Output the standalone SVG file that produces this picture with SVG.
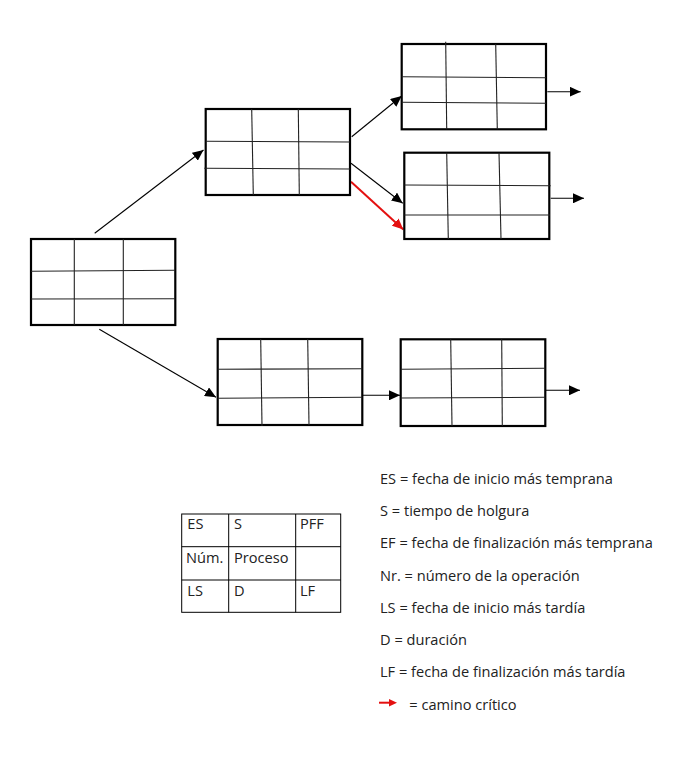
<svg xmlns="http://www.w3.org/2000/svg" width="686" height="757" viewBox="0 0 686 757">
<style>
.box{fill:#fff;stroke:#000;stroke-width:2.2}
.grid{stroke:#222;stroke-width:1.1;fill:none}
.conn{stroke:#000;stroke-width:1.1;fill:none;marker-end:url(#ah)}
.crit{stroke:#e41010;stroke-width:2;fill:none;marker-end:url(#ahr)}
.t{font-family:"Open Sans","Liberation Sans",sans-serif;font-size:14.6px;fill:#222}
.tb{stroke:#000;stroke-width:1;fill:none}
</style>
<defs>
<marker id="ah" markerUnits="userSpaceOnUse" markerWidth="12" markerHeight="10" refX="11" refY="5" orient="auto"><path d="M0,0 L11,5 L0,10 Z" fill="#000"/></marker>
<marker id="ahr" markerUnits="userSpaceOnUse" markerWidth="12" markerHeight="10" refX="11" refY="5" orient="auto"><path d="M0,0 L11,5 L0,10 Z" fill="#e41010"/></marker>
</defs>
<rect width="686" height="757" fill="#fff"/>
<g id="connectors">
<line class="conn" x1="94.7" y1="233.3" x2="203.5" y2="150"/>
<line class="conn" x1="99.3" y1="329.3" x2="216" y2="397.3"/>
<line class="conn" x1="351.7" y1="136.7" x2="401.7" y2="96"/>
<line class="conn" x1="351" y1="163.3" x2="402.7" y2="203.3"/>
<line class="crit" x1="351" y1="181.7" x2="403.3" y2="229.5"/>
<line class="conn" x1="547.3" y1="91.7" x2="580.7" y2="91.7"/>
<line class="conn" x1="550.7" y1="198.3" x2="584" y2="198.3"/>
<line class="conn" x1="362.5" y1="395.3" x2="400" y2="395.3"/>
<line class="conn" x1="545.5" y1="390.3" x2="580" y2="390.3"/>
</g>
<g id="node1">
<rect class="box" x="31" y="239" width="144.3" height="86"/>
<line class="grid" x1="74.3" y1="239" x2="74.3" y2="325"/>
<line class="grid" x1="123.3" y1="239" x2="123.3" y2="325"/>
<line class="grid" x1="31" y1="271.3" x2="175" y2="270.3"/>
<line class="grid" x1="31" y1="299" x2="175" y2="298.7"/>
</g>
<g id="node2">
<rect class="box" x="205.7" y="109" width="144.3" height="86"/>
<line class="grid" x1="251.7" y1="109" x2="253.3" y2="195"/>
<line class="grid" x1="298.3" y1="109" x2="299.3" y2="195"/>
<line class="grid" x1="205.7" y1="141.3" x2="350" y2="142"/>
<line class="grid" x1="204.3" y1="168.3" x2="350" y2="169"/>
</g>
<g id="node3">
<rect class="box" x="401.7" y="44" width="144.3" height="85.3"/>
<line class="grid" x1="445.7" y1="41.7" x2="446.7" y2="129.3"/>
<line class="grid" x1="495.7" y1="44" x2="497.3" y2="129.3"/>
<line class="grid" x1="401.7" y1="76.7" x2="546" y2="77.7"/>
<line class="grid" x1="401.7" y1="102.3" x2="546" y2="103.3"/>
</g>
<g id="node4">
<rect class="box" x="404.3" y="152.7" width="145" height="86.3"/>
<line class="grid" x1="446.7" y1="152.7" x2="448.3" y2="239"/>
<line class="grid" x1="499" y1="152.7" x2="501" y2="239"/>
<line class="grid" x1="404.3" y1="185" x2="550.7" y2="185.7"/>
<line class="grid" x1="404.3" y1="215" x2="550" y2="215"/>
</g>
<g id="node5">
<rect class="box" x="217.7" y="339" width="144.6" height="86"/>
<line class="grid" x1="260.7" y1="339" x2="262" y2="426"/>
<line class="grid" x1="307.7" y1="339" x2="309" y2="425"/>
<line class="grid" x1="217.7" y1="369.3" x2="362.3" y2="368.7"/>
<line class="grid" x1="217.7" y1="398.3" x2="362.3" y2="397.3"/>
</g>
<g id="node6">
<rect class="box" x="400.7" y="339.3" width="144.6" height="86.7"/>
<line class="grid" x1="450.7" y1="339.3" x2="452" y2="426"/>
<line class="grid" x1="501.7" y1="339.3" x2="502.3" y2="426"/>
<line class="grid" x1="400.7" y1="369.3" x2="545.3" y2="368.3"/>
<line class="grid" x1="400.7" y1="398" x2="545.3" y2="397.3"/>
</g>
<g id="legend-table">
<rect class="tb" x="181.7" y="514" width="159" height="98.3"/>
<line class="tb" x1="228.7" y1="514" x2="228.7" y2="612.3"/>
<line class="tb" x1="295.7" y1="514" x2="295.7" y2="612.3"/>
<line class="tb" x1="181.7" y1="546.7" x2="340.7" y2="546.7"/>
<line class="tb" x1="181.7" y1="580" x2="340.7" y2="580"/>
<text class="t" x="187.3" y="529.3">ES</text>
<text class="t" x="234" y="529.3">S</text>
<text class="t" x="300" y="529.3">PFF</text>
<text class="t" x="186" y="563.3">Núm.</text>
<text class="t" x="234" y="563.3">Proceso</text>
<text class="t" x="187.3" y="596">LS</text>
<text class="t" x="234" y="596">D</text>
<text class="t" x="300" y="596">LF</text>
</g>
<g id="legend-text">
<text class="t" x="380" y="484">ES = fecha de inicio más temprana</text>
<text class="t" x="380" y="516">S = tiempo de holgura</text>
<text class="t" x="380" y="548.3">EF = fecha de finalización más temprana</text>
<text class="t" x="380" y="580.7">Nr. = número de la operación</text>
<text class="t" x="380" y="612.7">LS = fecha de inicio más tardía</text>
<text class="t" x="380" y="645">D = duración</text>
<text class="t" x="380" y="677.3">LF = fecha de finalización más tardía</text>
<line x1="379" y1="702.7" x2="390" y2="702.7" stroke="#e41010" stroke-width="2"/>
<path d="M389,699 L397,702.7 L389,706.4 Z" fill="#e41010"/>
<text class="t" x="409.3" y="710">= camino crítico</text>
</g>
</svg>
